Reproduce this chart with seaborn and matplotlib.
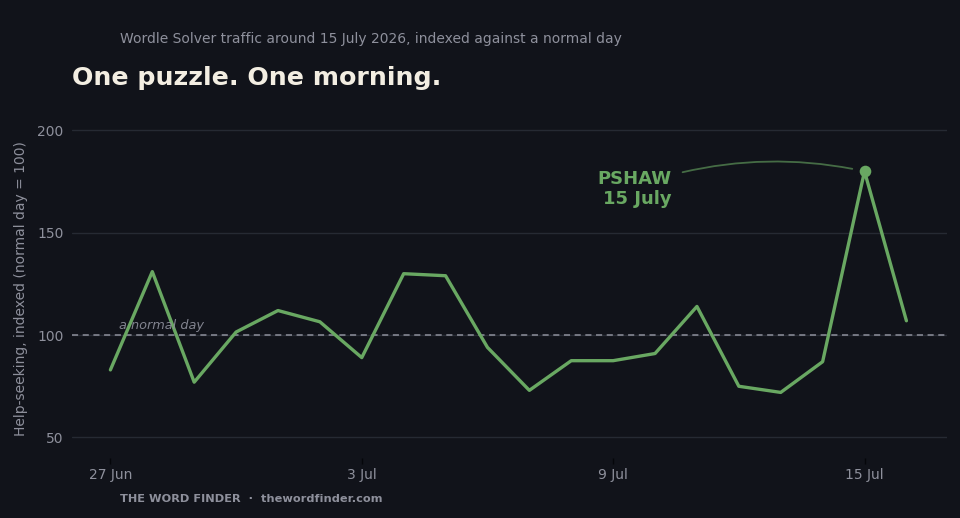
"""Wordle Solver traffic spike around 15 July 2026."""

import matplotlib

matplotlib.use("Agg")
import matplotlib.pyplot as plt
import pandas as pd
import seaborn as sns

# Daily index values, 27 Jun .. 16 Jul 2026 (normal day = 100)
dates = pd.date_range("2026-06-27", "2026-07-16", freq="D")
index_values = [83, 131, 77, 101.5, 112, 106.5, 89, 130, 129, 94,
                73, 87.5, 87.5, 91, 114, 75, 72, 87, 180, 107]
tick_dates = pd.to_datetime(["2026-06-27", "2026-07-03", "2026-07-09", "2026-07-15"])
tick_labels = ["27 Jun", "3 Jul", "9 Jul", "15 Jul"]
y_ticks = [50, 100, 150, 200]
peak_date = pd.Timestamp("2026-07-15")
peak_word = "PSHAW"

BG = "#11131a"
GREEN = "#69a862"
MUTED = "#8e909c"
GRID = "#262a33"

df = pd.DataFrame({"date": dates, "index": index_values})

sns.set_theme(style="dark")
plt.rcParams["font.family"] = ["DejaVu Sans"]

fig = plt.figure(figsize=(9.6, 5.18), dpi=100, facecolor=BG)
ax = fig.add_axes([0.075, 0.116, 0.911, 0.652])
ax.set_facecolor(BG)

sns.lineplot(data=df, x="date", y="index", color=GREEN, linewidth=2.4, ax=ax)

# peak marker
peak_val = df.loc[df["date"] == peak_date, "index"].iloc[0]
ax.scatter([peak_date], [peak_val], s=70, color=GREEN, zorder=5, linewidths=0)

# reference line
ax.axhline(100, color=MUTED, linestyle=(0, (4, 3)), linewidth=1.1, zorder=1)
ax.text(dates[0] + pd.Timedelta(hours=5), 101.5, "a normal day", color=MUTED,
        fontsize=9.3, style="italic", ha="left", va="bottom", alpha=0.9)

# axes
ax.set_ylim(40, 205)
ax.set_xlim(dates[0] - pd.Timedelta(hours=22), peak_date + pd.Timedelta(hours=47))
ax.set_yticks(y_ticks)
ax.set_xticks(tick_dates)
ax.set_xticklabels(tick_labels)
ax.yaxis.grid(True, color=GRID, linewidth=1)
ax.xaxis.grid(False)
for s in ax.spines.values():
    s.set_visible(False)
ax.tick_params(axis="y", colors=MUTED, labelsize=10, length=0, pad=6)
ax.tick_params(axis="x", colors=MUTED, labelsize=10, length=4, width=1,
               color="#05060a", pad=3, bottom=True)
for lbl in ax.get_xticklabels() + ax.get_yticklabels():
    lbl.set_color(MUTED)
ax.set_xlabel("")
ax.set_ylabel("Help-seeking, indexed (normal day = 100)", color=MUTED,
              fontsize=10, labelpad=6.5)

# annotation
ax.annotate(f"{peak_word}\n15 July", xy=(peak_date, peak_val),
            xytext=(peak_date - pd.Timedelta(days=4.6), 171.2),
            color=GREEN, fontsize=13, fontweight="bold", ha="right", va="center",
            linespacing=1.15,
            arrowprops=dict(arrowstyle="-", color=GREEN, alpha=0.6, linewidth=1.3,
                            connectionstyle="arc3,rad=-0.12",
                            relpos=(1.0, 0.88), patchA=None,
                            shrinkA=8, shrinkB=9))

# titles and footer
fig.text(0.125, 0.924, "Wordle Solver traffic around 15 July 2026, indexed against a normal day",
         color=MUTED, fontsize=10, ha="left", va="center")
fig.text(0.075, 0.849, "One puzzle. One morning.", color="#f3eee2", fontsize=18.2,
         fontweight="bold", ha="left", va="center")
fig.text(0.125, 0.036, "THE WORD FINDER  ·  thewordfinder.com", color=MUTED,
         fontsize=8.2, fontweight="bold", ha="left", va="center")

fig.savefig("out.png", dpi=100, facecolor=BG)
